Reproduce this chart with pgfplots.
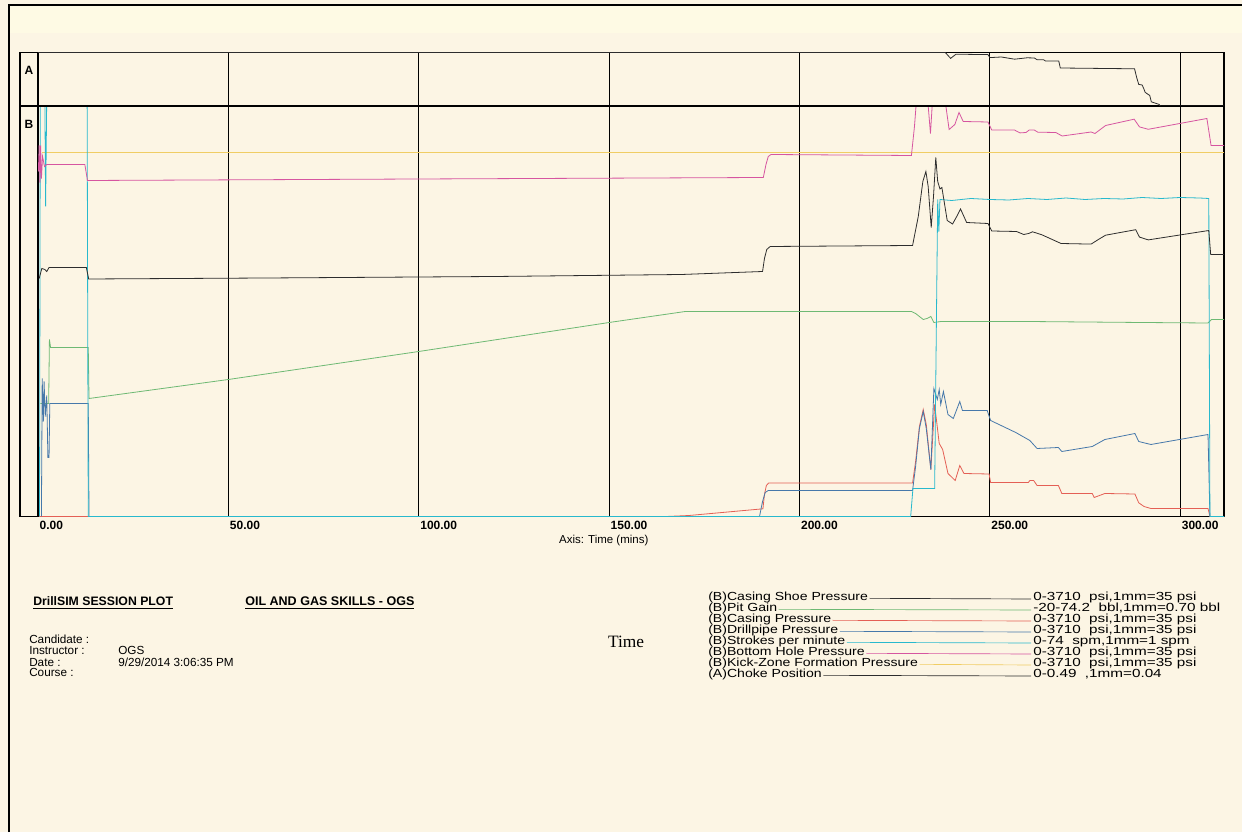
\documentclass[border=0pt]{standalone}
\usepackage{pgfplots}
\pgfplotsset{compat=1.18}
\usepackage{fontspec}
\setmainfont{Liberation Sans}
\newfontfamily\seriffont{Liberation Serif}
\newfontfamily\legfont[FakeStretch=1.2]{Liberation Sans}
\newfontfamily\valfont[FakeStretch=1.3]{Liberation Sans}
\definecolor{bgc}{RGB}{252,245,228}
\definecolor{topc}{RGB}{254,250,228}
\definecolor{cshoe}{RGB}{45,45,45}
\definecolor{bhp}{RGB}{214,85,160}
\definecolor{kick}{RGB}{240,205,100}
\definecolor{pit}{RGB}{110,185,115}
\definecolor{csg}{RGB}{228,95,85}
\definecolor{dpp}{RGB}{70,120,170}
\definecolor{spm}{RGB}{40,185,205}
\begin{document}
\begin{tikzpicture}
\begin{scope}[x=0.75pt,y=0.75pt]
\path[use as bounding box] (0,0) rectangle (1242,832);
\fill[bgc] (0,0) rectangle (1242,832);
\fill[topc] (10,799) rectangle (1242,826);
\draw[line width=1.5pt, black] (9,0) -- (9,827) -- (1242,827);
% label column
\draw[line width=0.9pt] (20,315.5) rectangle (38,779.5);
\draw[line width=0.9pt] (20,726) -- (38,726);
\node[font=\bfseries\fontsize{9}{9}\selectfont] at (29,762) {A};
\node[font=\bfseries\fontsize{9}{9}\selectfont] at (29,708) {B};
% header texts
\node[anchor=base west, inner sep=0pt, font=\bfseries\fontsize{9.2}{9.2}\selectfont] at (33,226) {\underline{DrillSIM SESSION PLOT}};
\node[anchor=base west, inner sep=0pt, font=\bfseries\fontsize{9.4}{9.4}\selectfont] at (245,226) {\underline{OIL AND GAS SKILLS - OGS}};
\begin{scope}[every node/.style={anchor=base west, inner sep=0pt, font=\fontsize{8.8}{8.8}\selectfont}]
\node at (29,188) {Candidate :};
\node at (29,177) {Instructor :};
\node at (29,166) {Date :};
\node at (29,155) {Course :};
\node at (118,177) {OGS};
\node at (118,166) {9/29/2014 3:06:35 PM};
\end{scope}
\node[font=\seriffont\fontsize{13}{13}\selectfont] at (626,190) {Time};
% legend
\begin{scope}[every node/.style={anchor=base west, inner sep=0pt, font=\legfont\fontsize{8.8}{8.8}\selectfont}]
\node (L1) at (708,231) {(B)Casing Shoe Pressure};
\node (L2) at (708,220) {(B)Pit Gain};
\node (L3) at (708,209) {(B)Casing Pressure};
\node (L4) at (708,198) {(B)Drillpipe Pressure};
\node (L5) at (708,187) {(B)Strokes per minute};
\node (L6) at (708,176) {(B)Bottom Hole Pressure};
\node (L7) at (708,165) {(B)Kick-Zone Formation Pressure};
\node (L8) at (708,154) {(A)Choke Position};
\end{scope}
\begin{scope}[every node/.style={anchor=base west, inner sep=0pt, font=\valfont\fontsize{8.8}{8.8}\selectfont}]
\node at (1033,231) {0-3710~ psi,1mm=35 psi};
\node at (1033,220) {-20-74.2~ bbl,1mm=0.70 bbl};
\node at (1033,209) {0-3710~ psi,1mm=35 psi};
\node at (1033,198) {0-3710~ psi,1mm=35 psi};
\node at (1033,187) {0-74~ spm,1mm=1 spm};
\node at (1033,176) {0-3710~ psi,1mm=35 psi};
\node at (1033,165) {0-3710~ psi,1mm=35 psi};
\node at (1033,154) {0-0.49~ ,1mm=0.04};
\end{scope}
\draw[cshoe, line width=0.5pt] ([xshift=1pt,yshift=2pt]L1.base east) -- (1031,233);
\draw[pit, line width=0.5pt] ([xshift=1pt,yshift=2pt]L2.base east) -- (1031,222);
\draw[csg, line width=0.5pt] ([xshift=1pt,yshift=2pt]L3.base east) -- (1031,211);
\draw[dpp, line width=0.5pt] ([xshift=1pt,yshift=2pt]L4.base east) -- (1031,200);
\draw[spm, line width=0.5pt] ([xshift=1pt,yshift=2pt]L5.base east) -- (1031,189);
\draw[bhp, line width=0.5pt] ([xshift=1pt,yshift=2pt]L6.base east) -- (1031,178);
\draw[kick, line width=0.5pt] ([xshift=1pt,yshift=2pt]L7.base east) -- (1031,167);
\draw[cshoe, line width=0.5pt] ([xshift=1pt,yshift=2pt]L8.base east) -- (1031,156);
\end{scope}

% ---------- Panel B ----------
\begin{axis}[
  at={(28.5pt,236.625pt)}, anchor=south west,
  scale only axis, width=889.5pt, height=307.875pt,
  xmin=0, xmax=311.5, ymin=0, ymax=410.5,
  axis line style={line width=0.9pt},
  xtick={0,50,100,150,200,250,300},
  xticklabels={0.00,50.00,100.00,150.00,200.00,250.00,300.00},
  ytick=\empty,
  major tick length=0pt,
  xmajorgrids, grid style={black, line width=0.9pt},
  xticklabel style={anchor=north west, inner sep=0pt, xshift=1pt, yshift=-3pt, font=\bfseries\fontsize{9}{9}\selectfont},
  xlabel={Axis: Time (mins)},
  xlabel style={at={(axis description cs:0.477,0)}, anchor=north, inner sep=0pt, yshift=-14pt, font=\fontsize{8.6}{8.6}\selectfont},
  every axis plot/.append style={line width=0.6pt, mark=none},
]
% Kick-Zone Formation Pressure
\addplot[kick] coordinates {(1.0,364) (311.5,364)};
% Pit Gain
\addplot[pit] coordinates {(0.6,113) (2.8,113) (3.0,177) (3.3,169) (13.2,169) (13.4,118) (50,137) (100,165) (150,194) (170,205) (229.4,205) (230.5,203) (232.5,197) (233.5,198) (234.5,200) (235.3,194) (237.2,195) (260,195) (290,194) (307.3,193.5) (308.2,197) (311.5,197)};
% Casing Pressure
\addplot[csg] coordinates {(0.3,0) (165,0) (171,1) (190.4,7.7) (190.8,22) (191.3,31) (191.9,33.5) (229.7,33.5) (230.5,55) (231.5,90) (232.5,107) (233.3,92) (234.5,47) (235.5,112) (236.7,73) (237.6,67) (239.0,43) (240.9,36) (242.1,51) (243.2,43) (249.8,42.5) (250.2,34) (260.1,34) (260.5,36) (261.5,36) (262.4,31) (268.0,31) (268.9,23) (276.9,23) (277.4,19) (280.2,23) (288.1,22.5) (289.1,13.7) (290.5,10) (292.3,8) (307.3,8) (307.8,0) (311.5,0)};
% Drillpipe Pressure
\addplot[dpp] coordinates {(0.9,0) (1.1,138) (1.4,95) (1.6,135) (1.9,100) (2.3,121) (2.6,59) (2.9,59) (3.1,113) (13.2,113) (13.4,0) (189.5,0) (190.3,15) (191.0,24) (191.8,26) (229.7,26) (230.5,50) (231.5,88) (232.5,105) (233.3,88) (234.5,47) (235.3,128) (236.2,117) (236.7,127) (237.1,112) (237.8,125) (239.0,102) (240.4,98) (242.1,115) (242.8,106) (249.3,106) (250.2,96) (256.8,84) (260.5,76) (262.4,68) (268.0,69) (268.9,65) (276.9,70) (280.2,77) (288.1,83) (289.1,75) (292.3,72) (307.3,82) (307.8,0) (311.5,0)};
% Strokes per minute
\addplot[spm] coordinates {(0.4,0) (0.6,420) (1.8,420) (2.0,310) (2.3,420) (12.9,420) (13.2,0) (229.2,0) (229.8,28) (235.5,28) (236.3,317) (236.6,285) (236.9,317) (240,316) (245,318) (250,317) (255,316.5) (260,318) (265,317) (270,318.5) (275,317) (280,318) (285,317.5) (290,319) (295,318) (300,319) (305,318.5) (307.5,318) (307.8,0) (311.5,0)};
% Casing Shoe Pressure
\addplot[cshoe] coordinates {(0.3,238) (1.0,248) (1.8,247) (2.3,245) (2.9,249) (12.7,249) (13.3,237.5) (60,238.5) (120,240) (169,242) (190.3,245) (190.8,258) (191.4,267) (192.3,270) (229.7,271) (231.2,300) (232.4,335) (233.2,345) (233.8,330) (234.6,289) (235.2,320) (235.8,359) (236.3,335) (236.9,327.5) (237.4,329) (238.8,296) (240.2,292.5) (241.3,300) (242.3,307.5) (243.9,294) (249.5,293) (250.5,285.5) (257.0,285) (258.9,282) (260.2,283) (261.2,284.7) (263.6,281.8) (268.7,273) (276.6,272.4) (278.5,277) (280.4,281.3) (288.3,286.8) (289.3,279.4) (291.6,276.6) (307.5,286) (308.0,262) (311.5,262)};
% Bottom Hole Pressure
\addplot[bhp] coordinates {(0.1,345) (0.3,371) (0.5,334) (0.7,371) (0.9,338) (1.2,360) (1.7,350) (2.3,352) (12.3,352) (13.0,336) (100,337.5) (190.5,339) (191.2,352) (191.8,360) (192.5,362) (229.4,361) (230.2,390) (230.8,420) (233.6,420) (234.4,383) (235.0,420) (238.1,420) (239.3,387) (240.8,392) (241.9,404) (243.0,395) (249.5,394.5) (250.5,386.5) (256.5,386.4) (257.9,383.6) (259.5,384) (260.3,386.4) (261.7,386.4) (262.6,384.3) (267.3,384) (269.0,380.5) (276.6,384.5) (277.6,383) (280.4,391) (287.9,397.3) (289.3,389.6) (291.6,387.2) (307.0,398) (308.1,371) (311.5,371)};
\end{axis}

% ---------- Panel A ----------
\begin{axis}[
  at={(28.5pt,544.5pt)}, anchor=south west,
  scale only axis, width=889.5pt, height=40.125pt,
  xmin=0, xmax=311.5, ymin=0, ymax=53.5,
  axis line style={line width=0.9pt},
  xtick={0,50,100,150,200,250,300},
  xticklabels={},
  ytick=\empty,
  major tick length=0pt,
  xmajorgrids, grid style={black, line width=0.9pt},
  every axis plot/.append style={line width=0.6pt, mark=none},
]
% Choke Position
\addplot[cshoe] coordinates {(0,53.5) (238.3,53.5) (239.7,47.6) (241.1,51.8) (249.5,51.4) (250.0,48.4) (253,49) (256.5,46.8) (259.8,48.2) (261.7,48) (262.4,46.3) (264.1,46.3) (264.6,45) (268.1,45) (268.5,38) (288.0,37.2) (288.6,28) (289.1,21.6) (290.0,21) (290.4,17.6) (290.8,13.6) (292.0,10.5) (292.4,4.2) (294.5,1.5) (294.7,0) (311.5,0)};
\end{axis}
\end{tikzpicture}
\end{document}
